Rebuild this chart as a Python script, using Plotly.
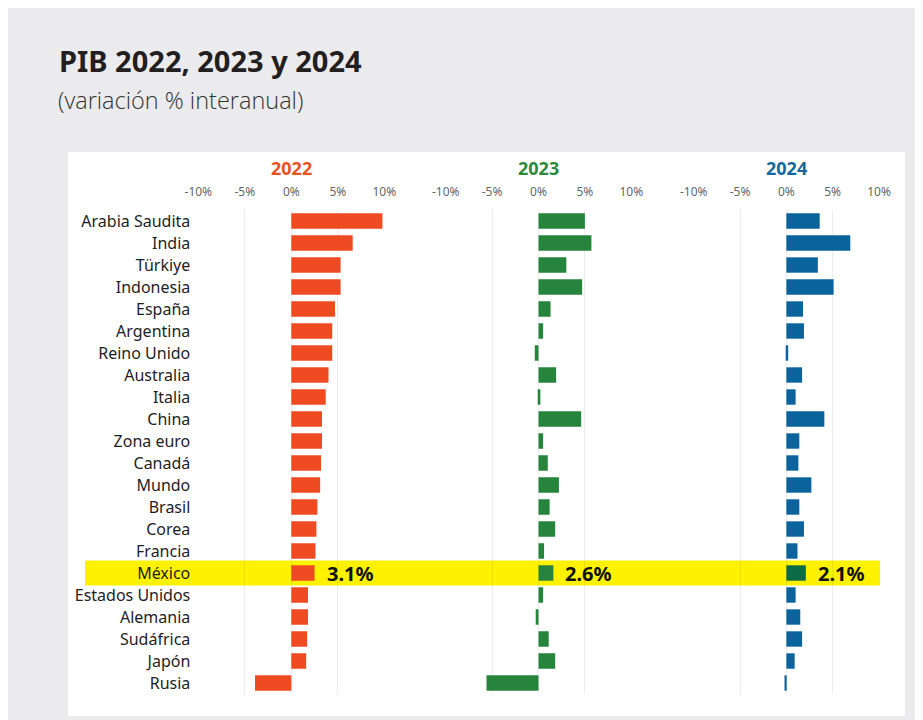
import plotly.graph_objects as go

countries = ["Arabia Saudita", "India", "Türkiye", "Indonesia", "España", "Argentina",
             "Reino Unido", "Australia", "Italia", "China", "Zona euro", "Canadá",
             "Mundo", "Brasil", "Corea", "Francia", "México", "Estados Unidos",
             "Alemania", "Sudáfrica", "Japón", "Rusia"]

years = ["2022", "2023", "2024"]

gdp_2022 = [9.8, 6.6, 5.3, 5.3, 4.7, 4.4, 4.4, 4.0, 3.7, 3.3, 3.3, 3.2,
            3.1, 2.8, 2.7, 2.6, 2.5, 1.8, 1.8, 1.7, 1.6, -3.9]
gdp_2023 = [5.0, 5.7, 3.0, 4.7, 1.3, 0.5, -0.4, 1.9, 0.2, 4.6, 0.5, 1.0,
            2.2, 1.2, 1.8, 0.6, 1.6, 0.5, -0.3, 1.1, 1.8, -5.6]
gdp_2024 = [3.6, 6.9, 3.4, 5.1, 1.8, 1.9, 0.2, 1.7, 1.0, 4.1, 1.4, 1.3,
            2.7, 1.4, 1.9, 1.2, 2.1, 1.0, 1.5, 1.7, 0.9, -0.2]

highlight = "México"
highlight_labels = ["3.1%", "2.6%", "2.1%"]

tick_vals = [-10, -5, 0, 5, 10]
tick_text = ["-10%", "-5%", "0%", "5%", "10%"]

series = [gdp_2022, gdp_2023, gdp_2024]
colors = ["#ee4b22", "#27843d", "#0a639b"]
title_colors = ["#e8521f", "#2c8a3c", "#13699e"]
highlight_colors = ["#ee4b22", "#27843d", "#0c6a47"]

# page is offset by the 8px body margin
OFF = 8
W, H = 915, 712
def px(x):
    return (x - OFF) / W
def py(y):
    return 1 - (y - OFF) / H

x_domains = [(198.3, 384.3), (445.7, 631.3), (693.7, 879.0)]
y_top, y_bot = 210, 694

fig = go.Figure()
font_fam = "Noto Sans"

for i, (vals, col, hcol) in enumerate(zip(series, colors, highlight_colors)):
    xa = "x" if i == 0 else f"x{i+1}"
    mcols = [hcol if c == highlight else col for c in countries]
    fig.add_trace(go.Bar(
        x=vals, y=countries, orientation="h",
        marker=dict(color=mcols, line=dict(width=0)),
        xaxis=xa, yaxis="y", showlegend=False, hoverinfo="x+y",
    ))
    hidx = countries.index(highlight)
    fig.add_annotation(
        x=vals[hidx], y=highlight, xref=xa, yref="y",
        text=highlight_labels[i], showarrow=False, xanchor="left", xshift=10,
        font=dict(family=font_fam, size=20, color="#111111", weight="bold"),
    )
    dom = x_domains[i]
    fig.add_annotation(
        x=(px(dom[0]) + px(dom[1])) / 2, y=py(168), xref="paper", yref="paper",
        text=years[i], showarrow=False, xanchor="center", yanchor="middle",
        font=dict(family=font_fam, size=18, color=title_colors[i], weight="bold"),
    )
    axis = dict(
        domain=[px(dom[0]), px(dom[1])], range=[-10, 10], side="top",
        tickvals=tick_vals, ticktext=tick_text, showgrid=True,
        gridcolor="rgba(0,0,0,0.07)", gridwidth=1, zeroline=False, showline=False,
        ticks="", ticklabelstandoff=11, automargin=False,
        tickfont=dict(family=font_fam, size=12, color="#666666"),
        anchor="y", fixedrange=True,
    )
    fig.update_layout(**{("xaxis" if i == 0 else f"xaxis{i+1}"): axis})

fig.update_layout(
    yaxis=dict(
        domain=[py(y_bot), py(y_top)], categoryorder="array", categoryarray=countries,
        autorange="reversed", showgrid=False, zeroline=False, showline=False,
        ticks="", ticklabelstandoff=7, automargin=False,
        tickfont=dict(family=font_fam, size=16, color="#1e1e1e"), anchor="x",
        fixedrange=True,
    ),
    bargap=0.3,
    width=W, height=H,
    margin=dict(l=0, r=0, t=0, b=0, pad=0),
    paper_bgcolor="#ebebed",
    plot_bgcolor="rgba(0,0,0,0)",
)

hidx = countries.index(highlight)
fig.add_shape(type="rect", xref="paper", yref="paper",
              x0=px(68), x1=px(905), y0=py(716), y1=py(152),
              fillcolor="#ffffff", line=dict(width=0), layer="below")
fig.add_shape(type="rect", xref="paper", yref="y",
              x0=px(85), x1=px(880), y0=hidx - 0.57, y1=hidx + 0.57,
              fillcolor="#fff200", line=dict(width=0), layer="below")

fig.add_annotation(x=px(57), y=py(61), xref="paper", yref="paper",
                   text="PIB 2022, 2023 y 2024", showarrow=False,
                   xanchor="left", yanchor="middle",
                   font=dict(family=font_fam, size=29, color="#231f20", weight="bold"))
fig.add_annotation(x=px(56), y=py(100), xref="paper", yref="paper",
                   text="(variación % interanual)", showarrow=False,
                   xanchor="left", yanchor="middle",
                   font=dict(family="Open Sans", size=23.5, color="#333333", weight=300))

fig.write_html("out.html")
